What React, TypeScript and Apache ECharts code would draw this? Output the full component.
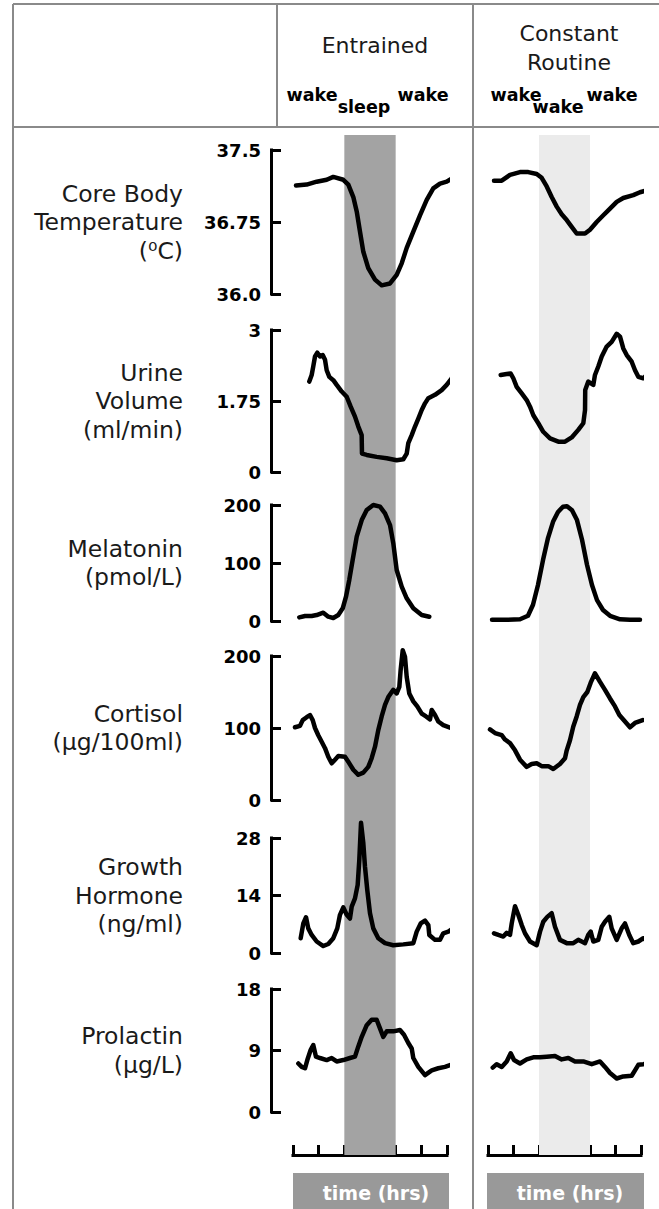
import React, { useEffect, useRef } from "react";
import * as echarts from "echarts";

// ---- time axis (hours) ----
const HOURS_MIN = 0;
const HOURS_MAX = 24;
const HOURS_STEP = 4;
const SLEEP_BAND = [8, 16];

// ---- panel variables ----
const PANEL_NAMES = [
  "Core Body\nTemperature\n(⁰C)",
  "Urine\nVolume\n(ml/min)",
  "Melatonin\n(pmol/L)",
  "Cortisol\n(μg/100ml)",
  "Growth\nHormone\n(ng/ml)",
  "Prolactin\n(μg/L)",
];
const AXIS_MIN = [36, 0, 0, 0, 0, 0];
const AXIS_MAX = [37.5, 3, 200, 200, 28, 18];
const TICK_LABELS = [
  ["36.0", "36.75", "37.5"],
  ["0", "1.75", "3"],
  ["0", "100", "200"],
  ["0", "100", "200"],
  ["0", "14", "28"],
  ["0", "9", "18"],
];

// ---- series: [hour, value] ----
const tempEntrained = [
  [0.47, 37.13], [2.13, 37.14], [3.69, 37.17], [5.25, 37.19], [6.28, 37.22], [7.84, 37.19],
  [8.62, 37.14], [9.4, 37.01], [9.93, 36.86], [10.44, 36.65], [10.96, 36.44], [11.73, 36.27],
  [12.78, 36.15], [13.82, 36.09], [15.12, 36.11], [16.16, 36.2], [16.94, 36.32], [17.72, 36.48],
  [18.75, 36.65], [19.79, 36.82], [20.84, 36.98], [21.86, 37.1], [22.91, 37.15], [23.95, 37.17],
  [24.89, 37.21],
];
const tempRoutine = [
  [0.94, 37.18], [2.15, 37.18], [3.45, 37.24], [5.02, 37.27], [6.32, 37.27], [7.64, 37.25],
  [8.42, 37.21], [9.21, 37.12], [9.99, 37.01], [10.78, 36.91], [11.56, 36.83], [12.35, 36.77],
  [13.13, 36.7], [13.91, 36.63], [15.22, 36.63], [16.0, 36.67], [17.05, 36.75], [18.09, 36.82],
  [19.14, 36.89], [20.19, 36.96], [21.22, 37.0], [22.79, 37.03], [23.84, 37.06], [24.99, 37.08],
];
const urineEntrained = [
  [2.54, 1.91], [2.91, 2.05], [3.16, 2.23], [3.43, 2.44], [3.79, 2.52], [4.21, 2.44], [4.63, 2.47],
  [4.99, 2.37], [5.25, 2.15], [5.66, 2.01], [6.28, 1.94], [6.81, 1.84], [7.59, 1.7], [8.37, 1.59],
  [8.99, 1.38], [9.66, 1.17], [10.18, 0.96], [10.7, 0.78], [10.75, 0.39], [11.49, 0.36],
  [13.04, 0.32], [14.6, 0.29], [16.16, 0.25], [17.19, 0.27], [17.72, 0.39], [17.97, 0.61],
  [18.5, 0.78], [19.01, 0.96], [19.53, 1.13], [20.06, 1.31], [20.57, 1.45], [21.09, 1.56],
  [22.13, 1.63], [23.17, 1.73], [23.95, 1.84], [24.73, 1.98], [25.25, 2.15], [25.76, 2.12],
  [26.29, 2.05],
];
const urineRoutine = [
  [1.99, 2.05], [2.93, 2.07], [3.56, 2.08], [3.97, 1.98], [4.5, 1.8], [5.29, 1.66], [6.07, 1.52],
  [6.59, 1.38], [7.11, 1.2], [7.89, 1.03], [8.67, 0.85], [9.73, 0.71], [11.03, 0.64], [12.08, 0.64],
  [13.13, 0.73], [14.16, 0.89], [14.95, 1.03], [15.22, 1.31], [15.25, 1.73], [15.73, 1.91],
  [16.52, 1.84], [16.78, 2.05], [17.3, 2.23], [17.84, 2.44], [18.62, 2.65], [19.4, 2.75],
  [20.19, 2.92], [20.71, 2.86], [21.22, 2.61], [21.76, 2.47], [22.54, 2.33], [23.06, 2.15],
  [23.58, 2.01], [24.36, 1.98], [25.14, 2.08], [25.83, 2.01],
];
const melatoninEntrained = [
  [0.98, 6.3], [1.87, 8.6], [2.91, 8.6], [3.69, 10.3], [4.72, 14.4], [5.5, 7.5], [6.28, 5.2],
  [7.06, 10.3], [7.75, 21.8], [8.26, 41.9], [8.77, 70.7], [9.3, 105.2], [9.93, 145.3],
  [10.71, 174.1], [11.49, 191.4], [12.51, 200], [13.56, 197.1], [14.34, 185.7], [15.12, 165.5],
  [15.63, 134.0], [16.16, 87.9], [16.94, 59.1], [17.72, 39.1], [18.75, 21.9], [20.06, 10.3],
  [21.24, 7.4],
];
const melatoninRoutine = [
  [0.63, 2], [2.67, 2], [5.02, 3], [6.27, 9], [7.06, 28], [7.84, 62], [8.63, 105], [9.41, 143],
  [10.2, 171], [10.98, 188], [11.76, 197], [12.39, 198], [13.18, 191], [13.96, 174], [14.75, 140],
  [15.53, 97], [16.31, 62], [17.1, 36], [18.04, 19], [19.14, 9], [20.71, 3], [22.27, 2], [23.84, 2],
];
const cortisolEntrained = [
  [0.31, 101], [1.09, 103], [1.51, 111], [2.13, 115], [2.65, 118], [3.07, 111], [3.43, 100],
  [3.94, 90], [4.47, 81], [4.99, 72], [5.5, 60], [6.03, 51], [6.55, 56], [7.06, 61], [8.1, 60],
  [8.62, 53], [9.4, 42], [10.18, 35], [10.96, 38], [11.73, 46], [12.26, 58], [12.78, 74],
  [13.29, 97], [13.82, 116], [14.34, 132], [14.85, 143], [15.63, 153], [16.16, 148], [16.57, 157],
  [16.78, 181], [17.1, 208], [17.45, 199], [17.72, 171], [18.12, 148], [18.75, 137], [19.37, 130],
  [20.06, 120], [20.73, 116], [21.35, 112], [21.62, 125], [22.13, 118], [22.64, 109], [23.42, 104],
  [24.58, 100],
];
const cortisolRoutine = [
  [0.31, 98], [1.1, 93], [2.15, 90], [2.67, 84], [3.45, 79], [4.24, 69], [5.02, 56], [6.07, 46],
  [6.85, 50], [7.64, 51], [8.42, 47], [9.46, 47], [10.24, 43], [11.29, 50], [12.08, 58],
  [12.35, 69], [12.86, 83], [13.38, 102], [13.91, 116], [14.43, 132], [14.95, 143], [15.58, 150],
  [16.11, 163], [16.78, 176], [17.57, 164], [18.35, 153], [19.14, 141], [19.92, 130], [20.6, 118],
  [21.49, 109], [22.27, 101], [23.06, 107], [24.27, 111],
];
const ghEntrained = [
  [1.2, 3.6], [1.61, 7.2], [2.03, 8.7], [2.38, 6.0], [2.91, 4.4], [3.69, 2.8], [4.72, 1.7],
  [5.5, 2.2], [6.28, 3.6], [6.9, 6.0], [7.32, 9.3], [7.84, 11.1], [8.37, 9.3], [8.88, 8.4],
  [9.15, 11.3], [9.66, 13.3], [10.08, 16.6], [10.33, 22.6], [10.6, 31.7], [10.96, 26.7],
  [11.22, 21.0], [11.58, 15.3], [12.0, 9.7], [12.51, 6.0], [13.29, 3.6], [14.34, 2.4], [15.63, 1.9],
  [17.19, 2.1], [18.75, 2.4], [19.28, 5.2], [19.9, 7.2], [20.57, 7.9], [21.09, 6.8], [21.24, 4.4],
  [22.13, 3.2], [22.91, 3.2], [23.42, 4.8], [24.2, 5.2], [24.98, 6.0],
];
const ghRoutine = [
  [0.94, 4.8], [1.62, 4.4], [2.4, 4.0], [2.93, 4.9], [3.45, 4.4], [3.72, 7.2], [4.24, 11.4],
  [4.75, 9.3], [5.29, 6.8], [5.8, 4.8], [6.59, 2.8], [7.64, 1.9], [8.16, 5.2], [8.67, 7.6],
  [9.3, 8.8], [9.99, 9.7], [10.51, 6.4], [11.29, 3.2], [12.35, 2.4], [13.38, 2.4], [14.16, 3.2],
  [14.7, 2.8], [15.22, 2.4], [15.73, 4.4], [16.11, 5.2], [16.52, 2.8], [17.3, 3.2], [17.84, 6.4],
  [18.35, 7.6], [19.03, 8.8], [19.4, 6.0], [20.19, 3.2], [20.97, 6.0], [21.49, 7.2], [22.16, 4.4],
  [22.79, 2.4], [23.58, 2.8], [24.36, 3.6], [25.14, 2.8],
];
const prolactinEntrained = [
  [0.83, 7.1], [1.36, 6.6], [1.87, 6.4], [2.23, 7.6], [2.76, 9.1], [3.16, 9.8], [3.58, 8.1],
  [4.21, 7.9], [5.25, 7.6], [6.03, 7.9], [6.81, 7.4], [7.84, 7.6], [8.88, 7.9], [9.66, 8.1],
  [10.18, 9.6], [10.71, 11.0], [11.49, 12.7], [12.26, 13.5], [13.04, 13.5], [13.45, 12.5],
  [14.07, 11.0], [14.6, 11.8], [15.63, 11.8], [16.67, 12.0], [17.3, 11.3], [17.97, 10.1],
  [18.5, 9.3], [18.75, 7.9], [19.53, 6.6], [20.57, 5.4], [21.62, 6.1], [22.64, 6.4], [23.69, 6.6],
  [24.89, 7.0],
];
const prolactinRoutine = [
  [0.74, 6.5], [1.36, 7.0], [2.15, 6.6], [2.93, 7.4], [3.56, 8.6], [4.08, 7.6], [5.02, 7.1],
  [6.07, 7.7], [7.11, 8.0], [8.16, 8.0], [9.21, 8.1], [10.51, 8.2], [11.56, 7.7], [12.6, 7.9],
  [13.65, 7.4], [14.95, 7.4], [16.27, 7.0], [17.57, 7.4], [18.35, 6.6], [19.14, 5.7], [20.19, 4.9],
  [21.22, 5.2], [22.54, 5.3], [23.06, 6.1], [23.58, 6.9], [24.36, 7.0], [24.99, 7.1],
];

const ENTRAINED_SERIES = [tempEntrained, urineEntrained, melatoninEntrained, cortisolEntrained, ghEntrained, prolactinEntrained];
const ROUTINE_SERIES = [tempRoutine, urineRoutine, melatoninRoutine, cortisolRoutine, ghRoutine, prolactinRoutine];

const COLUMN_TITLES = ["Entrained", "Constant\nRoutine"];
const STATE_LABELS = [["wake", "sleep", "wake"], ["wake", "wake", "wake"]];
const TIME_LABEL = "time (hrs)";

// ---- layout ----
const W = 659;
const H = 1209;
const FONT = "'DejaVu Sans', Verdana, sans-serif";
const COLUMNS = [
  { left: 293, width: 154, shade: "#a3a3a3", series: ENTRAINED_SERIES, titleX: 375, stateX: [312, 364, 423], box: 293, boxW: 156, boxText: 376 },
  { left: 488, width: 153, shade: "#ebebeb", series: ROUTINE_SERIES, titleX: 569, stateX: [516, 558, 612], box: 487, boxW: 157, boxText: 570 },
];
const PANEL_TOP = [150, 330, 505, 656, 838, 989];
const PANEL_HEIGHT = [144, 142, 116, 144, 115, 123];
const BG_TOP = 135;
const TIME_AXIS_Y = 1155;
const BORDER = "#8a8a8a";

function buildOption() {
  const grid: any[] = [];
  const xAxis: any[] = [];
  const yAxis: any[] = [];
  const series: any[] = [];

  // background grids: sleep band + time axis
  COLUMNS.forEach((col, c) => {
    grid.push({ left: col.left, width: col.width, top: BG_TOP, height: TIME_AXIS_Y - BG_TOP, outerBoundsMode: "none" });
    xAxis.push({
      gridIndex: c,
      type: "value",
      min: HOURS_MIN,
      max: HOURS_MAX,
      interval: HOURS_STEP,
      axisLine: { show: true, onZero: false, lineStyle: { color: "#000", width: 3, cap: "square" } },
      axisTick: { show: true, inside: true, length: 10, lineStyle: { color: "#000", width: 3 } },
      axisLabel: { show: false },
      splitLine: { show: false },
    });
    yAxis.push({ gridIndex: c, type: "value", min: 0, max: 1, show: false });
    series.push({
      type: "line",
      xAxisIndex: c,
      yAxisIndex: c,
      data: [],
      silent: true,
      z: 1,
      markArea: {
        silent: true,
        itemStyle: { color: col.shade },
        data: [[{ xAxis: SLEEP_BAND[0] }, { xAxis: SLEEP_BAND[1] }]],
      },
    });
  });

  // variable panels
  COLUMNS.forEach((col, c) => {
    PANEL_NAMES.forEach((_, p) => {
      const idx = grid.length;
      grid.push({ left: col.left, width: col.width, top: PANEL_TOP[p], height: PANEL_HEIGHT[p], outerBoundsMode: "none" });
      xAxis.push({ gridIndex: idx, type: "value", min: HOURS_MIN, max: HOURS_MAX, show: false });
      const labels = TICK_LABELS[p];
      yAxis.push({
        gridIndex: idx,
        type: "value",
        min: AXIS_MIN[p],
        max: AXIS_MAX[p],
        interval: (AXIS_MAX[p] - AXIS_MIN[p]) / 2,
        show: c === 0,
        offset: 22,
        axisLine: { show: true, onZero: false, lineStyle: { color: "#000", width: 3, cap: "square" } },
        axisTick: { show: true, inside: true, length: 10, lineStyle: { color: "#000", width: 3 } },
        axisLabel: {
          show: true,
          margin: 10,
          color: "#000",
          fontFamily: FONT,
          fontWeight: "bold",
          fontSize: 18,
          formatter: (_v: number, i: number) => labels[i] ?? "",
        },
        splitLine: { show: false },
      });
      series.push({
        type: "line",
        xAxisIndex: idx,
        yAxisIndex: idx,
        data: col.series[p],
        showSymbol: false,
        symbol: "none",
        clip: false,
        silent: true,
        z: 5,
        lineStyle: { color: "#000", width: 4.5, join: "round", cap: "round" },
      });
    });
  });

  const graphic: any[] = [];
  const line = (x1: number, y1: number, x2: number, y2: number) => ({
    type: "line",
    shape: { x1, y1, x2, y2 },
    style: { stroke: BORDER, lineWidth: 2 },
    silent: true,
    z: 10,
  });
  graphic.push(line(13, 4, W, 4));
  graphic.push(line(13, 4, 13, H));
  graphic.push(line(277, 4, 277, 127));
  graphic.push(line(473, 4, 473, H));
  graphic.push(line(13, 127, W, 127));

  const text = (x: number, y: number, t: string, size: number, weight: string, fill: string, align = "center", lh = 0) => ({
    type: "text",
    x,
    y,
    silent: true,
    z: 10,
    style: {
      text: t,
      fill,
      font: `${weight} ${size}px ${FONT}`,
      align,
      textAlign: align,
      verticalAlign: "middle",
      textVerticalAlign: "middle",
      lineHeight: lh || undefined,
    },
  });

  // column titles and wake/sleep states
  graphic.push(text(COLUMNS[0].titleX, 45, COLUMN_TITLES[0], 22, "normal", "#1a1a1a"));
  graphic.push(text(COLUMNS[1].titleX, 48, COLUMN_TITLES[1], 22, "normal", "#1a1a1a", "center", 29));
  COLUMNS.forEach((col, c) => {
    STATE_LABELS[c].forEach((s, i) => {
      graphic.push(text(col.stateX[i], i === 1 ? 107 : 95, s, 17.5, "bold", "#000"));
    });
    // time label boxes
    graphic.push({
      type: "rect",
      shape: { x: col.box, y: 1173, width: col.boxW, height: 40 },
      style: { fill: "#999999" },
      silent: true,
      z: 9,
    });
    graphic.push(text(col.boxText, 1193, TIME_LABEL, 19, "bold", "#fff"));
  });

  // row labels
  PANEL_NAMES.forEach((name, p) => {
    graphic.push(text(183, PANEL_TOP[p] + PANEL_HEIGHT[p] / 2, name, 23.5, "normal", "#1a1a1a", "right", 28.5));
  });

  return {
    animation: false,
    backgroundColor: "#fff",
    grid,
    xAxis,
    yAxis,
    series,
    graphic: { elements: graphic },
  };
}

export default function App() {
  const ref = useRef<HTMLDivElement>(null);
  useEffect(() => {
    if (!ref.current) return;
    const chart = echarts.init(ref.current, null, { renderer: "svg", width: W, height: H });
    chart.setOption(buildOption());
    return () => chart.dispose();
  }, []);
  return (
    <div
      ref={ref}
      style={{ position: "absolute", left: 0, top: 0, width: W, height: H, background: "#fff" }}
    />
  );
}
